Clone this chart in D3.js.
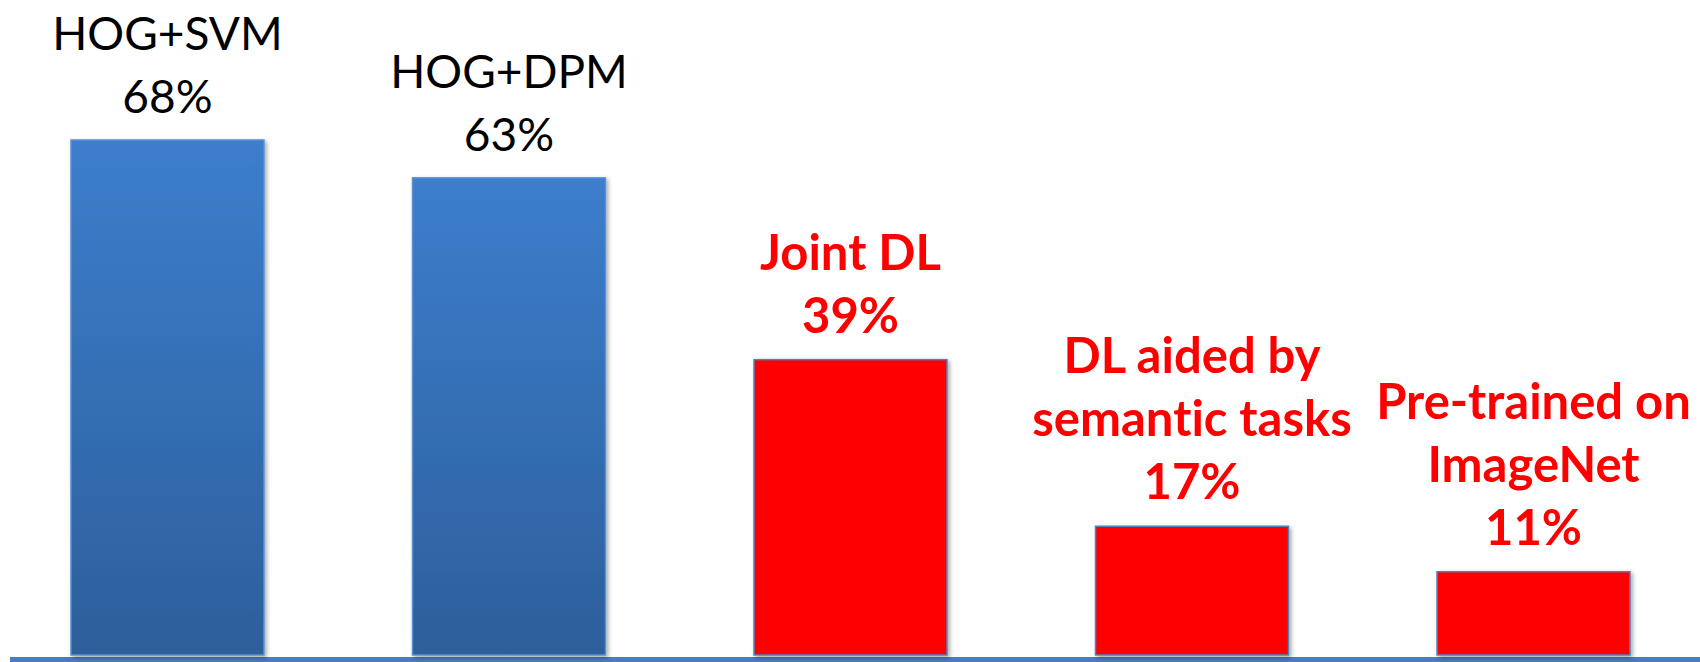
<!DOCTYPE html>
<html>
<head>
<meta charset="utf-8">
<script src="https://cdn.jsdelivr.net/npm/d3@7"></script>
<style>
  html, body { margin: 0; padding: 0; background: #ffffff; }
  svg { display: block; }
  text { font-variant-ligatures: none; font-feature-settings: "liga" 0; }
</style>
</head>
<body>
<svg id="chart" width="1700" height="662"></svg>
<script>
// Pedestrian detection miss rates by method
const methods = ["HOG+SVM", "HOG+DPM", "Joint DL", "DL aided by semantic tasks", "Pre-trained on ImageNet"];
const missRates = [68, 63, 39, 17, 11];
const methodGroups = ["hand-crafted", "hand-crafted", "deep", "deep", "deep"];
const labelLines = [["HOG+SVM"], ["HOG+DPM"], ["Joint DL"], ["DL aided by", "semantic tasks"], ["Pre-trained on", "ImageNet"]];

const W = 1700, H = 662;
const svg = d3.select("#chart");

const x = d3.scaleBand().domain(methods).range([71, 1630]).paddingInner(0.435).paddingOuter(0);
const y = d3.scaleLinear().domain([0, 68]).range([655, 140]);

const defs = svg.append("defs");
const grad = defs.append("linearGradient").attr("id", "blueFill")
  .attr("x1", 0).attr("y1", 0).attr("x2", 0).attr("y2", 1);
grad.append("stop").attr("offset", "0%").attr("stop-color", "#3c7ecd");
grad.append("stop").attr("offset", "100%").attr("stop-color", "#2d5f9b");

const shadow = defs.append("filter").attr("id", "shadow")
  .attr("x", "-5%").attr("y", "-5%").attr("width", "115%").attr("height", "115%");
shadow.append("feDropShadow").attr("dx", 2).attr("dy", 2).attr("stdDeviation", 2)
  .attr("flood-color", "#000").attr("flood-opacity", 0.35);

// baseline
svg.append("rect")
  .attr("x", 10).attr("y", 657).attr("width", W - 10).attr("height", 5)
  .attr("fill", "#4a7ebb");

// bars
svg.append("g").selectAll("rect")
  .data(methods)
  .join("rect")
  .attr("x", d => x(d))
  .attr("y", (d, i) => y(missRates[i]))
  .attr("width", x.bandwidth())
  .attr("height", (d, i) => y(0) - y(missRates[i]))
  .attr("fill", (d, i) => methodGroups[i] === "deep" ? "#ff0000" : "url(#blueFill)")
  .attr("stroke", (d, i) => methodGroups[i] === "deep" ? "#4f81bd" : "#5a8fd2")
  .attr("stroke-width", 1.5)
  .attr("filter", "url(#shadow)");

// labels: name lines followed by the value
const lineGap = 63;
const labels = svg.append("g").selectAll("text")
  .data(methods)
  .join("text")
  .attr("text-anchor", "middle")
  .attr("font-family", "Lato, 'Open Sans', sans-serif")
  .attr("font-size", (d, i) => methodGroups[i] === "deep" ? 49 : 46)
  .attr("font-weight", (d, i) => methodGroups[i] === "deep" ? 700 : 400)
  .attr("fill", (d, i) => methodGroups[i] === "deep" ? "#ff0000" : "#000000");

labels.each(function(d, i) {
  const lines = labelLines[i].concat([missRates[i] + "%"]);
  const cx = x(d) + x.bandwidth() / 2;
  const lastBase = y(missRates[i]) - 27;
  d3.select(this).selectAll("tspan")
    .data(lines)
    .join("tspan")
    .attr("x", cx)
    .attr("y", (t, k) => lastBase - (lines.length - 1 - k) * lineGap)
    .text(t => t);
});
</script>
</body>
</html>
